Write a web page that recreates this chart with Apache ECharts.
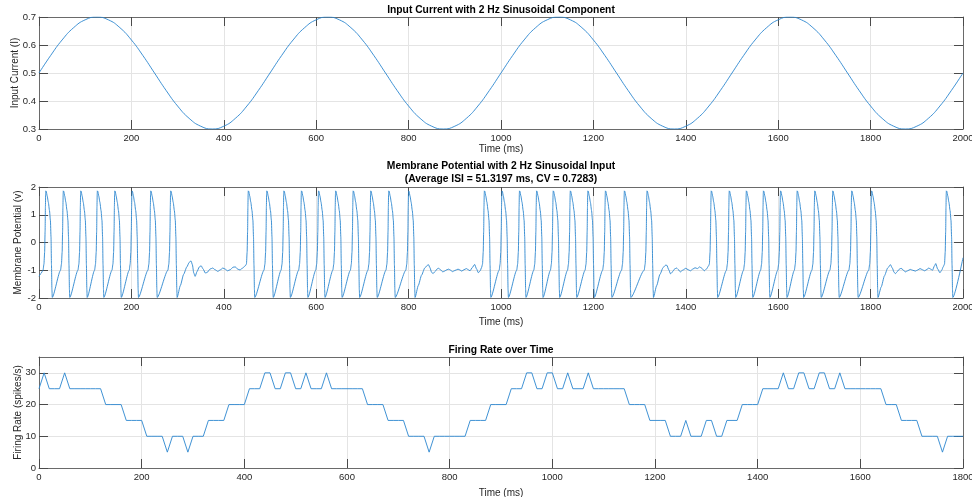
<!DOCTYPE html>
<html><head><meta charset="utf-8">
<script src="https://cdn.jsdelivr.net/npm/echarts@6/dist/echarts.min.js"></script>
<style>html,body{margin:0;padding:0;background:#fff}#c{width:972px;height:497px}</style>
</head><body><div id="c"></div>
<script>
// ---------- Panel 1: input current (read every 25 ms) ----------
const currentStepMs = 25;
const currentValues = [
  0.500,0.562,0.618,0.662,0.690,0.700,0.690,0.662,0.618,0.562,
  0.500,0.438,0.382,0.338,0.310,0.300,0.310,0.338,0.382,0.438,
  0.500,0.562,0.618,0.662,0.690,0.700,0.690,0.662,0.618,0.562,
  0.500,0.438,0.382,0.338,0.310,0.300,0.310,0.338,0.382,0.438,
  0.500,0.562,0.618,0.662,0.690,0.700,0.690,0.662,0.618,0.562,
  0.500,0.438,0.382,0.338,0.310,0.300,0.310,0.338,0.382,0.438,
  0.500,0.562,0.618,0.662,0.690,0.700,0.690,0.662,0.618,0.562,
  0.500,0.438,0.382,0.338,0.310,0.300,0.310,0.338,0.382,0.438,
  0.500
];

// ---------- Panel 2: membrane potential ----------
const spikePeaks = [
  14.7, 52.6, 90.3, 126.3, 164, 201.3, 241.8, 285,
  453, 493, 530, 568, 605, 642, 680, 718, 757, 800,
  964, 1002, 1040, 1077, 1113, 1150, 1188, 1226, 1267, 1316,
  1455, 1494, 1531, 1568, 1605, 1641, 1679, 1718, 1759, 1802,
  1964
];
// shape around each spike, offsets (ms) from the peak
const upstrokeShape = [[-4,-0.78],[-2.5,-0.35],[-1.5,0.4],[-0.8,1.3],[-0.3,1.75],[0,1.86]];
const decayShape = [[1,1.84],[3,1.68],[5.5,1.45],[8,1.15],[10,0.8],[11.3,0.2],[12.3,-0.8],[13.3,-1.7],[14,-1.98]];
const rampEndOffset = -6, rampEndValue = -1.0;
const traceStart = [[0,-1.22],[4,-1.12],[8.7,-1.0]];
const traceEnd = [[2000,-0.55]];
const quietAfterSpike = [285, 800, 1316, 1802];
const quiet1 = [[306,-1.55],[313,-1.15],[320,-0.88],[325,-0.72],[329,-0.66],[332,-0.8],[335,-1.1],[338,-1.22],[342,-1.05],[347,-0.88],[351,-0.84],[355,-0.95],[360,-1.1],[364,-1.08],[370,-0.96],[376,-0.92],[381,-0.98],[387,-1.04],[393,-0.98],[398,-0.92],[403,-0.96],[408,-1.02],[414,-0.98],[420,-0.89],[425,-0.88],[430,-0.96],[435,-0.99],[440,-0.93],[446,-0.85]];
const quiet2 = [[821,-1.55],[828,-1.18],[835,-0.92],[840,-0.83],[843,-0.8],[846,-0.9],[850,-1.08],[853,-1.12],[857,-1.05],[862,-0.95],[865,-0.93],[869,-0.98],[874,-1.06],[878,-1.03],[883,-0.98],[887,-0.96],[891,-1.0],[895,-1.05],[900,-1.01],[907,-0.96],[911,-0.99],[915,-1.03],[920,-0.98],[925,-0.94],[929,-0.98],[933,-1.02],[938,-0.9],[943,-0.79],[947,-0.95],[951,-1.09],[955,-1.02],[958,-0.9]];
const quiet3 = [[1337,-1.55],[1344,-1.15],[1351,-0.9],[1356,-0.82],[1359,-0.82],[1363,-0.98],[1367,-1.13],[1371,-1.06],[1376,-0.95],[1380,-0.92],[1384,-0.98],[1388,-1.06],[1393,-1.0],[1400,-0.93],[1405,-0.98],[1410,-1.02],[1415,-0.96],[1420,-0.91],[1425,-0.94],[1430,-0.88],[1434,-0.92],[1440,-1.02],[1445,-0.95],[1449,-0.85]];
const quiet4 = [[1823,-1.6],[1830,-1.2],[1837,-0.92],[1843,-0.8],[1847,-0.92],[1851,-1.08],[1854,-1.12],[1858,-1.04],[1863,-0.95],[1866,-0.93],[1870,-0.98],[1875,-1.06],[1880,-1.02],[1886,-0.97],[1891,-1.0],[1897,-1.03],[1902,-0.99],[1907,-0.94],[1912,-0.98],[1917,-1.02],[1922,-0.97],[1926,-0.92],[1930,-0.96],[1934,-1.0],[1938,-0.85],[1941,-0.76],[1945,-0.95],[1950,-1.09],[1954,-1.0],[1957,-0.88]];
const quietSegments = [quiet1, quiet2, quiet3, quiet4];

// ---------- Panel 3: firing rate (every 10 ms) ----------
const rateStepMs = 10;
const rateValues = [
  25,30,25,25,25,30,25, 25,25,25,25,25,25, 20,20,20,20, 15,15,15,15,
  10,10,10,10, 5, 10,10,10, 5, 10,10,10, 15,15,15,15, 20,20,20,20,
  25,25,25, 30,30, 25,25, 30,30, 25,25, 30, 25,25,25, 30,
  25,25,25,25,25,25,25, 20,20,20,20, 15,15,15,15, 10,10,10,10, 5,
  10,10,10,10,10,10,10, 15,15,15,15, 20,20,20,20, 25,25,25,
  30,30, 25,25, 30,30, 25,25, 30, 25,25,25, 30,
  25,25,25,25,25,25,25, 20,20,20,20, 15,15,15,15,
  10,10,10, 15, 10,10,10, 15,15, 10,10, 15,15,15, 20,20,20,20,
  25,25,25,25, 30, 25,25, 30,30, 25,25, 30,30, 25,25, 30,
  25,25,25,25,25,25,25,25, 20,20,20, 15,15,15,15, 10,10,10,10, 5,
  10,10,10,10
];

// ---------- tick settings ----------
const currentTicks = {min:0.3, max:0.7, interval:0.1};
const voltTicks = {min:-2, max:2, interval:1};
const rateTicks = {min:0, max:35, interval:10};
const timeTicks1 = {min:0, max:2000, interval:200};
const timeTicks3 = {min:0, max:1800, interval:200};

// build series data
const currentData = currentValues.map((v,i)=>[i*currentStepMs, v]);
const rateData = rateValues.map((v,i)=>[i*rateStepMs, v]);
const vData = traceStart.slice();
spikePeaks.forEach((tp,i)=>{
  upstrokeShape.forEach(([dt,v])=>vData.push([tp+dt,v]));
  decayShape.forEach(([dt,v])=>vData.push([tp+dt,v]));
  const qi = quietAfterSpike.indexOf(tp);
  if (qi >= 0) quietSegments[qi].forEach(p=>vData.push(p));
  else if (i+1 < spikePeaks.length) vData.push([spikePeaks[i+1]+rampEndOffset, rampEndValue]);
});
traceEnd.forEach(p=>vData.push(p));

const FONT = '"Liberation Sans", Arial, Helvetica, sans-serif';
const axisColor = '#6a6a6a';
const gridColor = '#e4e4e4';
const lineColor = '#2a86cf';

function mainX(grid, t, gap){
  return {type:'value', gridIndex:grid, position:'bottom', min:t.min, max:t.max, interval:t.interval,
    name:'Time (ms)', nameLocation:'middle', nameGap:gap, nameMoveOverlap:false,
    nameTextStyle:{fontFamily:FONT, fontSize:10, color:'#262626'},
    axisLine:{show:true, onZero:false, lineStyle:{color:axisColor, width:1}},
    axisTick:{show:true, inside:true, length:9, lineStyle:{color:'#4a4a4a'}},
    axisLabel:{fontFamily:FONT, fontSize:9.5, color:'#262626', margin:4, showMinLabel:true, showMaxLabel:true, hideOverlap:false,
      formatter:v=>String(Math.round(v))},
    splitLine:{show:true, lineStyle:{color:gridColor, width:1}}};
}
function boxX(grid, t){
  return {type:'value', gridIndex:grid, position:'top', min:t.min, max:t.max, interval:t.interval,
    axisLine:{show:true, onZero:false, lineStyle:{color:axisColor, width:1}},
    axisTick:{show:true, inside:true, length:9, lineStyle:{color:'#4a4a4a'}},
    axisLabel:{show:false}, splitLine:{show:false}};
}
function mainY(grid, t, name, gap, fmt, hideMax){
  return {type:'value', gridIndex:grid, position:'left', min:t.min, max:t.max, interval:t.interval,
    name:name, nameLocation:'middle', nameGap:gap, nameMoveOverlap:false,
    nameTextStyle:{fontFamily:FONT, fontSize:10, color:'#262626'},
    axisLine:{show:true, onZero:false, lineStyle:{color:axisColor, width:1}},
    axisTick:{show:true, inside:true, length:9, lineStyle:{color:'#4a4a4a'}},
    axisLabel:{fontFamily:FONT, fontSize:9.5, color:'#262626', margin:3, formatter:fmt, showMaxLabel:!hideMax},
    splitLine:{show:true, lineStyle:{color:gridColor, width:1}}};
}
function boxY(grid, t){
  return {type:'value', gridIndex:grid, position:'right', min:t.min, max:t.max, interval:t.interval,
    axisLine:{show:true, onZero:false, lineStyle:{color:axisColor, width:1}},
    axisTick:{show:true, inside:true, length:9, lineStyle:{color:'#4a4a4a'}},
    axisLabel:{show:false}, splitLine:{show:false}};
}

const titleStyle = {fontFamily:FONT, fontSize:10.3, fontWeight:'bold', color:'#000', lineHeight:13};
const option = {
  animation:false,
  backgroundColor:'#fff',
  title:[
    {text:'Input Current with 2 Hz Sinusoidal Component', left:501, top:3.5, padding:0, textAlign:'center', textStyle:titleStyle},
    {text:'Membrane Potential with 2 Hz Sinusoidal Input\n(Average ISI = 51.3197 ms, CV = 0.7283)', left:501, top:160, padding:0, textAlign:'center', textStyle:titleStyle},
    {text:'Firing Rate over Time', left:501, top:343.5, padding:0, textAlign:'center', textStyle:titleStyle}
  ],
  grid:[
    {left:39, right:9, top:17, height:112, containLabel:false, outerBoundsMode:'none'},
    {left:39, right:9, top:187, height:111, containLabel:false, outerBoundsMode:'none'},
    {left:39, right:9, top:357, height:111, containLabel:false, outerBoundsMode:'none'}
  ],
  xAxis:[ mainX(0,timeTicks1,15), boxX(0,timeTicks1), mainX(1,timeTicks1,19), boxX(1,timeTicks1), mainX(2,timeTicks3,20), boxX(2,timeTicks3) ],
  yAxis:[
    mainY(0,currentTicks,'Input Current (I)',19,v=>v.toFixed(1)), boxY(0,currentTicks),
    mainY(1,voltTicks,'Membrane Potential (v)',16,v=>String(Math.round(v))), boxY(1,voltTicks),
    mainY(2,rateTicks,'Firing Rate (spikes/s)',16,v=>String(Math.round(v)),true), boxY(2,rateTicks)
  ],
  series:[
    {type:'line', xAxisIndex:0, yAxisIndex:0, data:currentData, showSymbol:false, smooth:true,
      lineStyle:{color:lineColor, width:0.9}, itemStyle:{color:lineColor}},
    {type:'line', xAxisIndex:2, yAxisIndex:2, data:vData, showSymbol:false, smooth:0.2, smoothMonotone:'x',
      lineStyle:{color:lineColor, width:0.9}, itemStyle:{color:lineColor}},
    {type:'line', xAxisIndex:4, yAxisIndex:4, data:rateData, showSymbol:false,
      lineStyle:{color:lineColor, width:0.9}, itemStyle:{color:lineColor}}
  ]
};
const chart = echarts.init(document.getElementById('c'), null, {renderer:'canvas'});
chart.setOption(option);
</script>
</body></html>
